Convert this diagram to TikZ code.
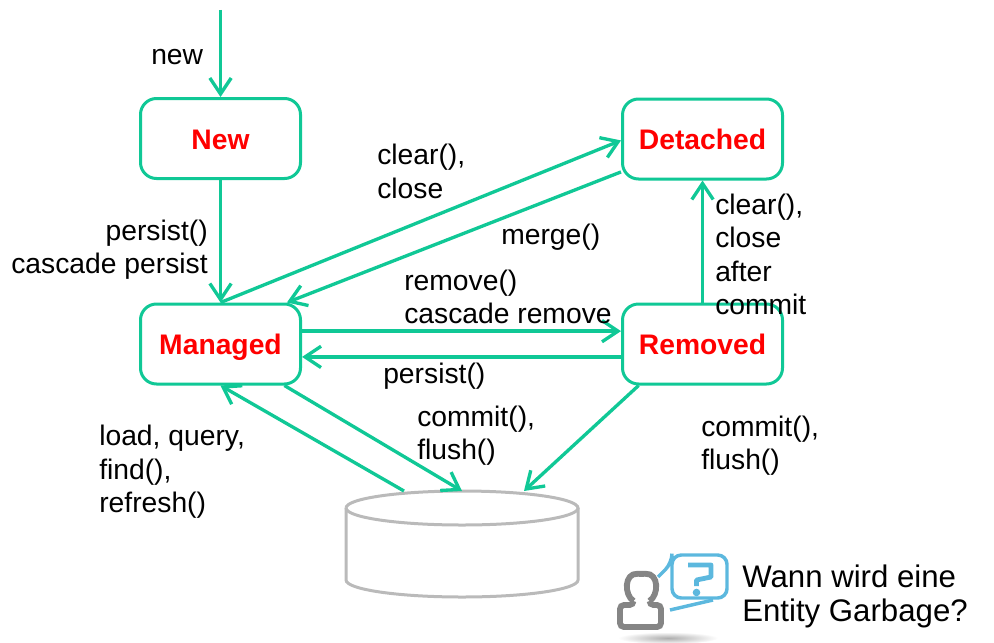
\documentclass[tikz,border=0pt]{standalone}
\usepackage{fontspec}
\setmainfont{Liberation Sans}
\usetikzlibrary{arrows.meta}
\definecolor{edgegreen}{RGB}{16,200,150}
\definecolor{bubbleblue}{RGB}{92,184,222}
\definecolor{dbgray}{RGB}{186,186,186}
\tikzset{
	state/.style={draw=edgegreen, line width=2.25pt, rounded corners=12pt, fill=white, minimum width=120pt, minimum height=60pt, inner sep=0pt, text height=16pt, text depth=0pt, text=red, font=\fontsize{21.2}{25}\selectfont\bfseries},
	flow/.style={draw=edgegreen, line width=2.5pt, -{Straight Barb[length=12pt, width=16pt, line width=2.5pt]}},
	tag/.style={inner sep=0pt, align=left, anchor=west, font=\fontsize{21.2}{25}\selectfont},
	dbline/.style={draw=dbgray, line width=2.25pt},
	person/.style={draw=black!48, line width=4.4pt, rounded corners=3pt},
	bubble/.style={draw=bubbleblue, line width=2.6pt, rounded corners=7pt}
}
\begin{document}
\begin{tikzpicture}[x=0.75pt, y=-0.75pt]
		%%%%% START %%%%%
		\useasboundingbox (0, 0) rectangle (994, 642);
		
		\node[state] (new) at (220.5, 138.5) {New};
		\node[state] (detached) at (702.5, 139) {Detached};
		\node[state] (managed) at (220.5, 344) {Managed};
		\node[state] (removed) at (702.5, 344) {Removed};
		
		\coordinate (start) at (220.5, 10);
		\coordinate (dbload) at (404, 491);
		\coordinate (dbflush) at (462, 491);
		\coordinate (dbcommit) at (524, 491);
		
		\draw[dbline] (346, 508) arc (180:0:116 and 17) arc (360:180:116 and 17);
		\draw[dbline] (346, 508) -- (346, 580) arc (180:360:116 and -17) -- (578, 508);
		
		\draw[flow] (start) -- (new);
		\draw[flow] (new) -- (managed);
		\draw[flow] (managed.north) -- (detached.181);
		\draw[flow] (detached.202) -- (managed.32);
		\draw[flow] (managed.9) -- (removed.171);
		\draw[flow] (removed.189) -- (managed.-9);
		\draw[flow] (removed) -- (detached);
		\draw[flow] (dbload) -- (managed.south);
		\draw[flow] (managed.-33) -- (dbflush);
		\draw[flow] (removed.213) -- (dbcommit);
		
		\node[tag] (newtag) at (151, 57) {new};
		\node[tag, anchor=east, align=right] (persisttag) at (208, 249.5) {persist()\\cascade persist};
		\node[tag] (closetag) at (377, 171.5) {clear(),\\close};
		\node[tag] (mergetag) at (501, 237) {merge()};
		\node[tag] (removetag) at (404, 297) {remove()\\cascade remove};
		\node[tag] (backtag) at (383, 376) {persist()};
		\node[tag] (committag) at (715, 254.5) {clear(),\\close\\after\\commit};
		\node[tag] (loadtag) at (99, 472) {load, query,\\find(),\\refresh()};
		\node[tag] (flushtag) at (417, 436) {commit(),\\flush()};
		\node[tag] (flushtagb) at (701, 446) {commit(),\\flush()};
		
		\shade[inner color=black!32, outer color=white] (668, 638) ellipse (50 and 6);
		\draw[person] (633.5, 601) .. controls (624, 595) and (624, 573) .. (641.5, 574) .. controls (659, 573) and (659, 595) .. (649.5, 601);
		\draw[person] (633.5, 601) -- (633.5, 605) -- (620, 605) -- (620, 627) -- (661, 627) -- (661, 605) -- (649.5, 605) -- (649.5, 601);
		
		\draw[bubble] (658, 577) -- (672, 563) -- (672, 555) -- (727, 555) -- (727, 598) -- (672, 598) -- (672, 563);
		\draw[bubble, rounded corners=0pt] (670, 610) -- (713, 600);
		\draw[bubbleblue, line width=3.6pt, line join=round] (688, 565) -- (711, 565) -- (711, 577) -- (696.5, 580) -- (696.5, 586);
		\fill[bubbleblue] (696.5, 592.5) circle (3.8);
		
		\node[tag, font=\fontsize{23.4}{25.5}\selectfont] (asktag) at (742, 596) {Wann wird eine\\Entity Garbage?};
		
		%%%%% END %%%%%
	\end{tikzpicture}
\end{document}
